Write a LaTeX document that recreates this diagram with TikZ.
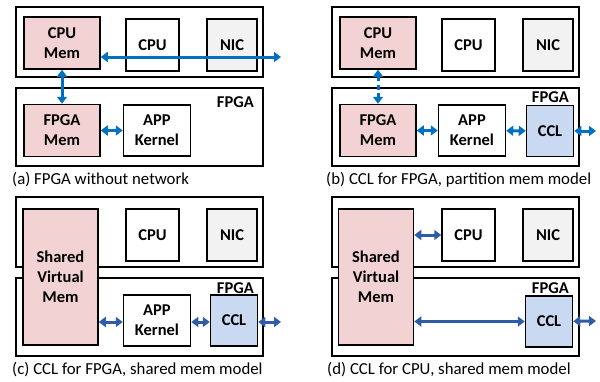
\documentclass[tikz,border=0pt]{standalone}
\usepackage{fontspec}
\setmainfont{Carlito}
\usetikzlibrary{arrows.meta}
\usetikzlibrary{positioning}
\definecolor{mempink}{RGB}{242,210,210}
\definecolor{nicgray}{RGB}{242,242,242}
\definecolor{cclblue}{RGB}{201,217,241}
\definecolor{linkblue}{RGB}{0,112,192}
\definecolor{linkdark}{RGB}{46,92,168}
\tikzset{frame/.style = {draw, line width=1.5pt, inner sep=0}}
\tikzset{host/.style = {frame, minimum width=247, minimum height=70}}
\tikzset{board/.style = {frame, minimum width=247, minimum height=78}}
\tikzset{part/.style = {draw, line width=1.5pt, align=center, inner sep=0,
                        font=\fontsize{16.5}{20}\selectfont\bfseries}}
\tikzset{cpumem/.style = {part, fill=mempink, minimum width=76, minimum height=52}}
\tikzset{shared/.style = {part, fill=mempink, minimum width=75, minimum height=136}}
\tikzset{cpubox/.style = {part, minimum width=53, minimum height=52}}
\tikzset{nicbox/.style = {part, fill=nicgray, minimum width=50, minimum height=52}}
\tikzset{appbox/.style = {part, minimum width=67, minimum height=51}}
\tikzset{cclbox/.style = {part, fill=cclblue, minimum width=47, minimum height=51}}
\tikzset{tag/.style = {anchor=base east, inner sep=0,
                       font=\fontsize{16.5}{20}\selectfont\bfseries}}
\tikzset{caption/.style = {anchor=base west, inner sep=0,
                           font=\fontsize{16.8}{20}\selectfont}}
\tikzset{link/.style = {{Triangle[length=7pt,width=10pt]}-{Triangle[length=7pt,width=10pt]},
                        line width=3pt, color=linkblue}}
\tikzset{darklink/.style = {link, color=linkdark}}

\begin{document}
\begin{tikzpicture}[x=1pt, y=-1pt]
  \useasboundingbox (0,0) rectangle (600,381);

  % (a) FPGA without network
  \node [host] (hostA) at (139.5,42) {};
  \node [board] (fpgaA) at (139.5,127) {};
  \node [tag] (tagA) at (254,107) {FPGA};
  \node [cpumem] (cpumemA) at (62,43) {CPU\\Mem};
  \node [cpubox] (cpuA) at (152.5,45) {CPU};
  \node [nicbox] (nicA) at (232,45) {NIC};
  \node [cpumem] (fpgamemA) at (62,130.5) {FPGA\\Mem};
  \node [appbox] (appA) at (157,130.5) {APP\\Kernel};
  \coordinate (netA) at (281,57);
  \draw [link] (cpumemA.east |- netA) -- (netA);
  \draw [link] (cpumemA.south) -- (fpgamemA.north);
  \draw [link] (fpgamemA) -- (appA);
  \node [caption] (capA) at (12,184) {(a) FPGA without network};

  % (b) CCL for FPGA, partition mem model
  \begin{scope}[shift={(316,0)}]
    \node [host] (hostB) at (139.5,42) {};
    \node [board] (fpgaB) at (139.5,127) {};
    \node [tag] (tagB) at (253,102) {FPGA};
    \node [cpumem] (cpumemB) at (62,43) {CPU\\Mem};
    \node [cpubox] (cpuB) at (152.5,45) {CPU};
    \node [nicbox] (nicB) at (232,45) {NIC};
    \node [cpumem] (fpgamemB) at (62,130.5) {FPGA\\Mem};
    \node [appbox] (appB) at (156,130.5) {APP\\Kernel};
    \node [cclbox] (cclB) at (234,131) {CCL};
    \coordinate (outB) at (280,131);
    \draw [link, dash pattern=on 5pt off 3.5pt] (cpumemB.south) -- (fpgamemB.north);
    \draw [link] (fpgamemB) -- (appB);
    \draw [link] (appB) -- (cclB);
    \draw [link] (cclB) -- (outB);
    \node [caption] (capB) at (10,184) {(b) CCL for FPGA, partition mem model};
  \end{scope}

  % (c) CCL for FPGA, shared mem model
  \begin{scope}[shift={(0,190)}]
    \node [host] (hostC) at (139.5,42) {};
    \node [board] (fpgaC) at (139.5,127) {};
    \node [tag] (tagC) at (254,103) {FPGA};
    \node [shared] (svmC) at (60.5,87) {Shared\\Virtual\\Mem};
    \node [cpubox] (cpuC) at (152.5,45) {CPU};
    \node [nicbox] (nicC) at (232,45) {NIC};
    \node [appbox] (appC) at (157,130.5) {APP\\Kernel};
    \node [cclbox] (cclC) at (234,130.5) {CCL};
    \coordinate (outC) at (281,132);
    \draw [darklink] (svmC.east |- outC) -- (appC.west |- outC);
    \draw [darklink] (appC.east |- outC) -- (cclC.west |- outC);
    \draw [darklink] (cclC.east |- outC) -- (outC);
    \node [caption] (capC) at (12,184) {(c) CCL for FPGA, shared mem model};
  \end{scope}

  % (d) CCL for CPU, shared mem model
  \begin{scope}[shift={(316,190)}]
    \node [host] (hostD) at (139.5,42) {};
    \node [board] (fpgaD) at (139.5,127) {};
    \node [tag] (tagD) at (253,103) {FPGA};
    \node [shared] (svmD) at (60,87) {Shared\\Virtual\\Mem};
    \node [cpubox] (cpuD) at (152.5,45) {CPU};
    \node [nicbox] (nicD) at (232,45) {NIC};
    \node [cclbox] (cclD) at (233,131.5) {CCL};
    \coordinate (outD) at (280,131);
    \draw [darklink] (svmD.east |- cpuD.west) -- (cpuD.west);
    \draw [darklink] (svmD.east |- cclD.west) -- (cclD.west);
    \draw [darklink] (cclD) -- (outD);
    \node [caption] (capD) at (11,184) {(d) CCL for CPU, shared mem model};
  \end{scope}
\end{tikzpicture}
\end{document}
